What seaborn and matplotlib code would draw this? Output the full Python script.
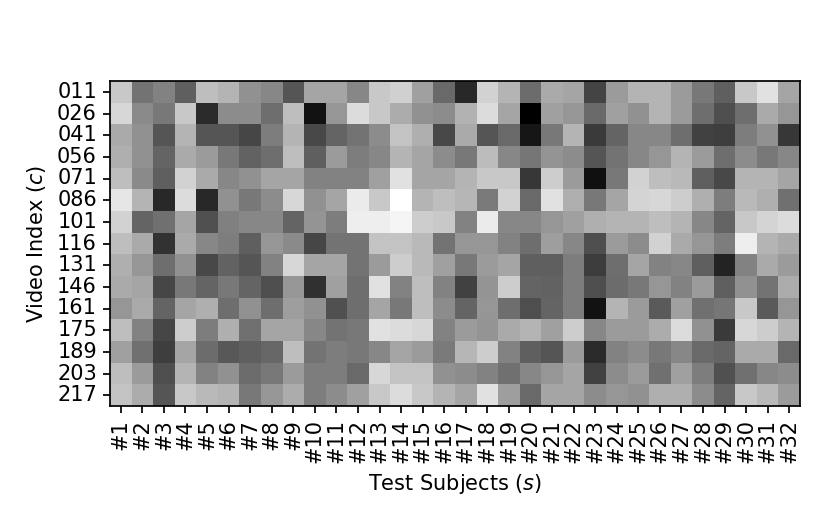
import numpy as np
import pandas as pd
import seaborn as sns
import matplotlib
import matplotlib.pyplot as plt
matplotlib.use('Agg')

video_index = ['011', '026', '041', '056', '071', '086', '101', '116',
               '131', '146', '161', '175', '189', '203', '217']
subjects = ['#%d' % i for i in range(1, 33)]

# grey levels, one list per video
v011 = [200,115,130,95,190,180,145,135,85,165,165,135,200,208,160,105,40,210,180,108,170,165,68,155,180,180,155,120,95,200,225,165]
v026 = [215,138,120,200,42,140,140,110,190,18,150,220,200,172,145,140,178,220,165,0,160,150,105,160,145,180,155,110,78,110,170,150]
v041 = [170,145,85,180,85,85,70,125,180,72,100,115,140,195,175,72,170,85,105,22,120,180,58,100,135,135,110,65,62,125,145,55]
v056 = [175,145,100,170,155,120,98,110,190,95,155,125,135,180,165,140,120,188,135,118,148,140,85,115,135,150,180,155,110,140,120,135]
v071 = [190,138,95,210,170,135,145,165,165,130,130,130,160,225,165,165,180,200,200,55,205,155,15,120,210,190,185,95,72,180,180,165]
v086 = [230,180,40,220,40,145,120,140,215,145,165,235,200,255,180,190,182,122,210,105,225,175,120,165,212,215,205,175,125,185,175,112]
v101 = [210,100,112,165,80,128,135,135,100,148,125,238,238,245,205,200,130,235,135,135,150,160,175,180,180,190,180,135,100,200,212,220]
v116 = [190,170,50,170,135,125,95,150,138,70,115,115,195,195,185,115,150,150,130,110,158,135,78,155,140,210,170,150,125,238,180,170]
v131 = [175,150,110,145,72,98,85,130,215,165,165,115,155,205,185,160,120,155,165,95,95,125,60,110,165,130,135,95,35,130,170,155]
v146 = [170,165,70,120,100,120,100,78,150,48,160,110,225,130,190,130,65,148,205,100,98,125,78,108,120,150,130,155,95,145,115,172]
v161 = [150,170,100,165,175,110,145,110,158,145,80,110,165,120,190,140,100,150,110,78,100,125,18,180,155,90,160,112,118,200,90,150]
v175 = [190,130,70,205,125,175,112,165,165,135,115,120,225,220,215,130,155,148,170,180,160,205,135,155,155,172,220,145,58,215,205,180]
v189 = [160,112,62,165,108,88,95,103,190,115,125,120,135,165,155,122,182,205,130,95,85,155,42,130,140,120,135,105,100,170,170,105]
v203 = [190,155,78,180,130,145,108,120,155,125,125,105,215,195,195,145,140,130,112,135,150,165,65,140,155,112,160,125,80,112,135,140]
v217 = [195,172,85,200,185,180,120,150,172,125,140,160,200,220,200,180,165,225,158,105,165,165,140,150,145,175,175,140,100,200,185,155]

scores = pd.DataFrame([v011, v026, v041, v056, v071, v086, v101, v116,
                       v131, v146, v161, v175, v189, v203, v217],
                      index=video_index, columns=subjects)

plt.rcParams['font.size'] = 12
fig = plt.figure(figsize=(6.64, 4.232), dpi=125)
ax = fig.add_axes([110 / 830, 1 - 406 / 529, 690 / 830, 325 / 529])
sns.heatmap(scores, cmap='gray', vmin=0, vmax=255, cbar=False, ax=ax,
            xticklabels=True, yticklabels=True)

for spine in ax.spines.values():
    spine.set_visible(True)
    spine.set_linewidth(1.0)
    spine.set_color('black')

ax.tick_params(axis='both', length=4, width=1.0, labelsize=12)
ax.tick_params(axis='x', rotation=90)
ax.tick_params(axis='y', rotation=0)
ax.set_xlabel('Test Subjects ($s$)', fontsize=12, labelpad=5)
ax.set_ylabel('Video Index ($c$)', fontsize=12, labelpad=5)

fig.savefig('out.png', dpi=125)
